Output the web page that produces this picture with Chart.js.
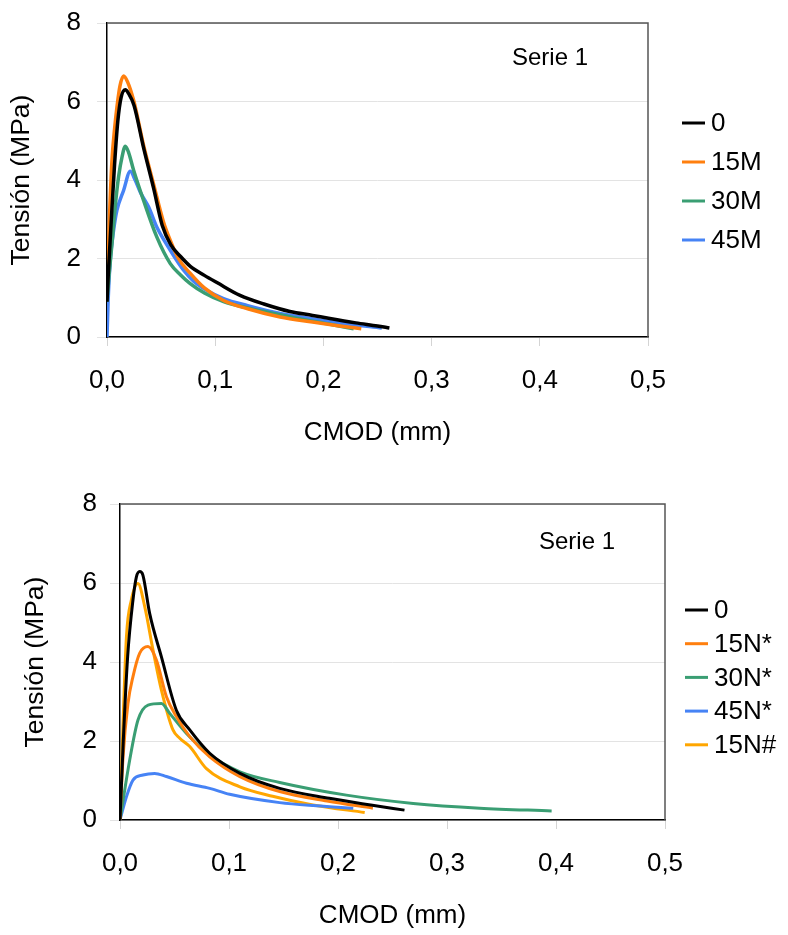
<!DOCTYPE html>
<html>
<head>
<meta charset="utf-8">
<script src="https://cdn.jsdelivr.net/npm/chart.js@4/dist/chart.umd.min.js"></script>
<style>
  body { margin: 0; background: #fff; width: 788px; height: 935px; position: relative; overflow: hidden; }
  canvas { position: absolute; left: 0; }
  #c-top { top: 0; }
  #c-bottom { top: 470px; }
</style>
</head>
<body>
<canvas id="c-top" width="788" height="470"></canvas>
<canvas id="c-bottom" width="788" height="465"></canvas>
<script>
// shared axis values
const xTicks = [0, 0.1, 0.2, 0.3, 0.4, 0.5];
const yTicks = [0, 2, 4, 6, 8];
const panelTitle = 'Serie 1';

// top panel: M series
const labelsTop = ['0', '15M', '30M', '45M'];
const colorsTop = ['#000000', '#ff7f0e', '#3a9e73', '#4683f5'];

const cmodTop0 = [0, 0.001, 0.004, 0.007, 0.010, 0.013, 0.017, 0.020, 0.025, 0.034, 0.043, 0.051, 0.059, 0.068, 0.077, 0.090, 0.102, 0.123, 0.145, 0.169, 0.190, 0.206, 0.230, 0.250, 0.261];
const tenTop0  = [0.9, 1.5, 3.0, 4.4, 5.5, 6.1, 6.3, 6.2, 5.9, 4.8, 3.8, 2.85, 2.35, 2.05, 1.8, 1.57, 1.38, 1.06, 0.84, 0.65, 0.55, 0.47, 0.36, 0.28, 0.23];

const cmodTop15M = [0, 0.0006, 0.0025, 0.0046, 0.0070, 0.0092, 0.012, 0.0154, 0.019, 0.0246, 0.034, 0.043, 0.052, 0.0585, 0.066, 0.077, 0.090, 0.1077, 0.130, 0.160, 0.190, 0.215, 0.235];
const tenTop15M  = [1.2, 1.6, 3.2, 4.5, 5.3, 5.86, 6.4, 6.65, 6.5, 6.03, 4.86, 3.9, 2.95, 2.46, 2.0, 1.62, 1.25, 0.93, 0.72, 0.51, 0.38, 0.28, 0.21];

const cmodTop30M = [0, 0.002, 0.0046, 0.0075, 0.0107, 0.014, 0.0169, 0.020, 0.0246, 0.0338, 0.046, 0.0585, 0.068, 0.0769, 0.090, 0.1077, 0.130, 0.154, 0.180, 0.205, 0.228];
const tenTop30M  = [0.9, 1.6, 2.38, 3.3, 4.08, 4.6, 4.86, 4.7, 4.25, 3.48, 2.55, 1.87, 1.58, 1.36, 1.12, 0.9, 0.74, 0.6, 0.45, 0.33, 0.21];

const cmodTop45M = [0, 0.001, 0.003, 0.006, 0.0092, 0.0154, 0.0215, 0.026, 0.0308, 0.0385, 0.046, 0.0585, 0.0708, 0.080, 0.092, 0.1077, 0.130, 0.160, 0.190, 0.220, 0.254];
const tenTop45M  = [0, 0.9, 1.95, 2.7, 3.23, 3.74, 4.22, 4.0, 3.69, 3.31, 2.8, 2.21, 1.7, 1.42, 1.19, 0.98, 0.8, 0.6, 0.46, 0.34, 0.23];

// bottom panel: N series
const labelsBottom = ['0', '15N*', '30N*', '45N*', '15N#'];
const colorsBottom = ['#000000', '#ff7f0e', '#3a9e73', '#4683f5', '#ffa600'];

const cmodBot0 = [0, 0.003, 0.007, 0.0119, 0.015, 0.0181, 0.021, 0.0272, 0.038, 0.0517, 0.064, 0.0823, 0.11, 0.1465, 0.192, 0.230, 0.261];
const tenBot0  = [0, 2.0, 4.13, 5.57, 6.15, 6.29, 6.2, 5.23, 4.13, 2.78, 2.28, 1.69, 1.18, 0.8, 0.55, 0.38, 0.25];

const cmodBot15N = [0, 0.0028, 0.0073, 0.0119, 0.018, 0.0257, 0.0334, 0.0426, 0.0517, 0.064, 0.0823, 0.11, 0.1465, 0.190, 0.232];
const tenBot15N  = [0, 1.6, 2.95, 3.63, 4.22, 4.39, 4.05, 3.12, 2.62, 2.11, 1.6, 1.1, 0.72, 0.48, 0.30];

const cmodBot30N = [0, 0.0089, 0.0165, 0.0257, 0.038, 0.0456, 0.061, 0.0823, 0.11, 0.1465, 0.2077, 0.269, 0.33, 0.396];
const tenBot30N  = [0, 1.52, 2.53, 2.91, 2.95, 2.70, 2.19, 1.65, 1.22, 0.95, 0.63, 0.42, 0.30, 0.23];

const cmodBot45N = [0, 0.0059, 0.0119, 0.0211, 0.0318, 0.0426, 0.061, 0.0823, 0.1006, 0.1465, 0.180, 0.214];
const tenBot45N  = [0, 0.59, 1.01, 1.14, 1.18, 1.10, 0.93, 0.80, 0.65, 0.44, 0.36, 0.30];

const cmodBot15H = [0, 0.0028, 0.0059, 0.0104, 0.0165, 0.0227, 0.0303, 0.038, 0.0486, 0.0548, 0.064, 0.0793, 0.11, 0.140, 0.177, 0.2245];
const tenBot15H  = [0, 2.45, 4.64, 5.57, 5.99, 5.40, 4.30, 3.29, 2.28, 2.07, 1.86, 1.3, 0.84, 0.6, 0.38, 0.19];

const FONT = "'Liberation Sans', Arial, sans-serif";

function toPoints(xs, ys) {
    return xs.map((x, i) => ({ x: x, y: ys[i] }));
}

function buildDatasets(labels, colors, series, width) {
    return series.map((s, i) => ({
        label: labels[i],
        data: toPoints(s[0], s[1]),
        borderColor: colors[i],
        backgroundColor: colors[i],
        borderWidth: width,
        showLine: true,
        pointRadius: 0,
        cubicInterpolationMode: 'monotone'
    }));
}

// frame, panel label and legend drawn on the canvas
const panelDecor = {
    id: 'panelDecor',
    afterDraw(chart, args, opts) {
        const ctx = chart.ctx;
        const a = chart.chartArea;
        ctx.save();
        // top and right edges of the plot box
        ctx.strokeStyle = '#555';
        ctx.lineWidth = 1.5;
        ctx.beginPath();
        ctx.moveTo(a.left, a.top);
        ctx.lineTo(a.right, a.top);
        ctx.lineTo(a.right, a.bottom);
        ctx.stroke();

        ctx.fillStyle = '#000';
        ctx.font = `${opts.titleSize}px ${FONT}`;
        ctx.textAlign = 'center';
        ctx.textBaseline = 'middle';
        ctx.fillText(panelTitle, opts.titleX, opts.titleY);

        ctx.font = `26px ${FONT}`;
        ctx.textAlign = 'left';
        chart.data.datasets.forEach((ds, i) => {
            const y = opts.legendY + i * opts.legendStep;
            ctx.strokeStyle = ds.borderColor;
            ctx.lineWidth = 3;
            ctx.beginPath();
            ctx.moveTo(opts.legendX, y);
            ctx.lineTo(opts.legendX + 23, y);
            ctx.stroke();
            ctx.fillText(ds.label, opts.legendX + 29, y + 1);
        });
        ctx.restore();
    }
};

function makeChart(id, datasets, cfg) {
    return new Chart(document.getElementById(id), {
        type: 'scatter',
        data: { datasets: datasets },
        plugins: [panelDecor],
        options: {
            responsive: false,
            animation: false,
            layout: { padding: { top: cfg.top, right: cfg.right, left: 0, bottom: 0 } },
            plugins: {
                legend: { display: false },
                tooltip: { enabled: false },
                panelDecor: cfg.decor
            },
            scales: {
                x: {
                    type: 'linear',
                    min: xTicks[0],
                    max: xTicks[xTicks.length - 1],
                    afterBuildTicks: s => { s.ticks = xTicks.map(v => ({ value: v })); },
                    afterFit: s => { s.height = cfg.xHeight; },
                    border: { color: '#000', width: 1.5 },
                    grid: { drawOnChartArea: false, drawTicks: true, tickLength: 9, color: '#d4d4d4' },
                    ticks: {
                        color: '#000',
                        padding: 19,
                        font: { family: FONT, size: 26 },
                        callback: v => v.toFixed(1).replace('.', ',')
                    },
                    title: {
                        display: true,
                        text: 'CMOD (mm)',
                        color: '#000',
                        font: { family: FONT, size: 26 },
                        padding: { top: 0, bottom: cfg.xTitlePad }
                    }
                },
                y: {
                    min: yTicks[0],
                    max: yTicks[yTicks.length - 1],
                    afterBuildTicks: s => { s.ticks = yTicks.map(v => ({ value: v })); },
                    afterFit: s => {
                        s.width = cfg.yWidth;
                        s.paddingTop = 0;
                        s.paddingBottom = 0;
                    },
                    border: { color: '#000', width: 1.5 },
                    grid: { color: '#e3e3e3', tickLength: 10 },
                    ticks: {
                        color: '#000',
                        padding: cfg.yTickPad,
                        font: { family: FONT, size: 26 }
                    },
                    title: {
                        display: true,
                        text: 'Tensión (MPa)',
                        color: '#000',
                        font: { family: FONT, size: 26.5 },
                        padding: { top: cfg.yTitlePad, bottom: 0 }
                    }
                }
            }
        }
    });
}

makeChart('c-top', buildDatasets(labelsTop, colorsTop, [
    [cmodTop0, tenTop0],
    [cmodTop15M, tenTop15M],
    [cmodTop30M, tenTop30M],
    [cmodTop45M, tenTop45M]
], 3.5), {
    top: 23, right: 140, yWidth: 107, xHeight: 133, yTickPad: 16, yTitlePad: 6, xTitlePad: 22,
    decor: { titleX: 550, titleY: 58, titleSize: 24, legendX: 682, legendY: 123, legendStep: 39 }
});

makeChart('c-bottom', buildDatasets(labelsBottom, colorsBottom, [
    [cmodBot0, tenBot0],
    [cmodBot15N, tenBot15N],
    [cmodBot30N, tenBot30N],
    [cmodBot45N, tenBot45N],
    [cmodBot15H, tenBot15H]
], 3), {
    top: 34, right: 123, yWidth: 120, xHeight: 115, yTickPad: 13, yTitlePad: 20, xTitlePad: 4,
    decor: { titleX: 577, titleY: 72, titleSize: 24, legendX: 685, legendY: 140, legendStep: 33.7 }
});
</script>
</body>
</html>
